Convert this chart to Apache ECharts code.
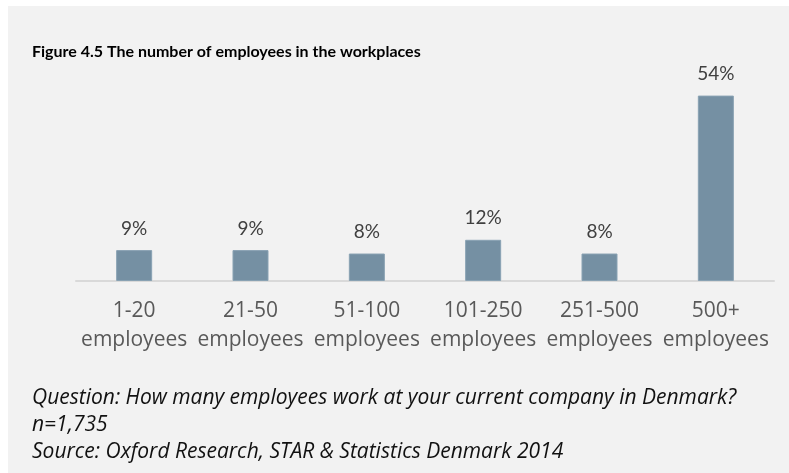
<!DOCTYPE html>
<html><head><meta charset="utf-8">
<script src="https://cdn.jsdelivr.net/npm/echarts@6/dist/echarts.min.js"></script>
<style>html,body{margin:0;padding:0;background:#fff;}#c{position:absolute;left:8px;top:6px;width:781px;height:467px;}</style>
</head><body><div id="c"></div>
<script>
const categories = ['1-20\nemployees','21-50\nemployees','51-100\nemployees','101-250\nemployees','251-500\nemployees','500+\nemployees'];
const values = [9, 9, 8, 12, 8, 54];
const titleText = 'Figure 4.5 The number of employees in the workplaces';
const noteLines = ['Question: How many employees work at your current company in Denmark?','n=1,735','Source: Oxford Research, STAR & Statistics Denmark 2014'];
const chart = echarts.init(document.getElementById('c'));
chart.setOption({
  backgroundColor: '#f2f2f2',
  animation: false,
  title: [
    {text: titleText, left: 19, top: 33, textStyle: {fontFamily: 'Lato', fontWeight: 'bold', fontSize: 16, color: '#000'}},
    {text: noteLines.join('\n'), left: 19, top: 374, textStyle: {fontFamily: 'Open Sans', fontStyle: 'italic', fontWeight: 'normal', fontSize: 21, lineHeight: 27, color: '#111'}}
  ],
  grid: {left: 68, right: 15, top: 69, bottom: 192},
  xAxis: {
    type: 'category', data: categories,
    axisLine: {lineStyle: {color: '#d9d9d9', width: 2}},
    axisTick: {show: false},
    axisLabel: {fontFamily: 'Open Sans', fontSize: 21, color: '#595959', lineHeight: 29, margin: 16, interval: 0}
  },
  yAxis: {type: 'value', min: 0, max: 60, show: false, splitLine: {show: false}},
  series: [{
    type: 'bar', data: values, barWidth: 36,
    itemStyle: {color: '#7590a3', borderColor: '#89a2b3', borderWidth: 1},
    label: {show: true, position: 'top', distance: 12, formatter: '{c}%', fontFamily: 'Lato', fontSize: 19, color: '#404040'}
  }]
});
</script></body></html>
